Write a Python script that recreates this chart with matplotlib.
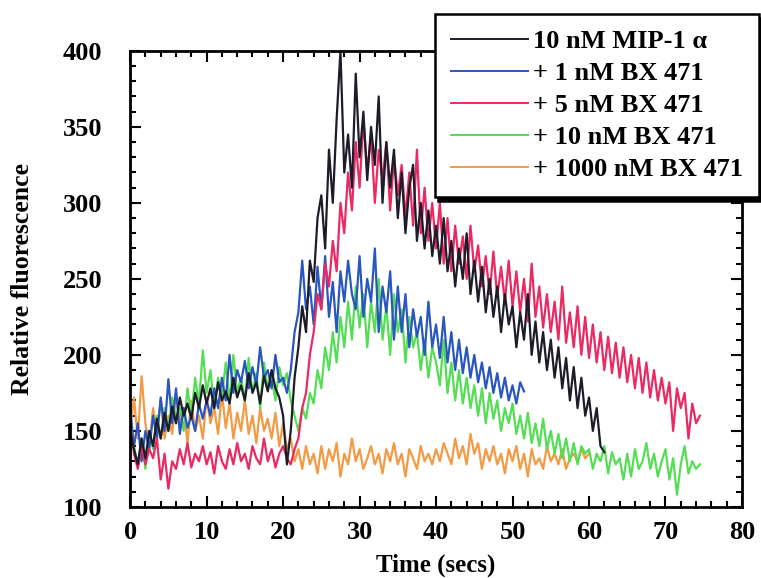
import numpy as np
import matplotlib
matplotlib.use('Agg')
import matplotlib.pyplot as plt
from matplotlib.ticker import MultipleLocator

plt.rcParams['font.family'] = ['Liberation Serif', 'DejaVu Serif']
plt.rcParams['font.weight'] = 'bold'

dt = 0.5  # sampling step (secs)

# 10 nM MIP-1 alpha
mip = [150, 138, 128, 145, 132, 150, 140, 158, 145, 162,
       150, 166, 155, 172, 160, 168, 158, 175, 165, 180,
       168, 178, 165, 182, 170, 176, 168, 185, 172, 180,
       170, 188, 175, 182, 168, 186, 176, 190, 178, 172,
       160, 128, 150, 185, 205, 232, 215, 262, 248, 290,
       305, 270, 335, 300, 355, 400, 320, 345, 310, 385,
       330, 360, 315, 350, 325, 370, 300, 340, 310, 335,
       290, 320, 280, 310, 325, 275, 300, 270, 295, 265,
       285, 260, 290, 255, 275, 245, 270, 250, 280, 240,
       262, 235, 258, 228, 250, 225, 245, 215, 240, 220,
       232, 205, 228, 210, 240, 200, 222, 195, 215, 190,
       210, 185, 205, 178, 198, 170, 192, 165, 185, 160,
       172, 150, 165, 140, 136]

# + 1 nM BX 471
bx1 = [165, 140, 155, 130, 150, 138, 160, 145, 172, 150,
       184, 155, 178, 148, 165, 152, 160, 150, 168, 158,
       170, 160, 178, 165, 185, 170, 200, 175, 190, 182,
       196, 178, 192, 180, 205, 185, 190, 178, 200, 182,
       185, 175, 190, 215, 228, 262, 230, 245, 220, 258,
       230, 265, 225, 248, 215, 255, 235, 262, 240, 230,
       265, 225, 250, 235, 270, 215, 245, 228, 255, 210,
       245, 215, 240, 205, 230, 212, 225, 200, 235, 205,
       220, 198, 225, 195, 215, 190, 210, 188, 205, 185,
       200, 182, 195, 178, 192, 175, 188, 172, 185, 170,
       180, 168, 182, 176]

# + 5 nM BX 471
bx5 = [155, 135, 125, 140, 128, 138, 132, 145, 118, 135,
       112, 130, 125, 138, 128, 142, 126, 135, 130, 140,
       128, 136, 122, 140, 130, 125, 138, 128, 142, 130,
       135, 125, 140, 132, 128, 145, 130, 138, 126, 135,
       140, 132, 128, 138, 145, 165, 175, 200, 215, 240,
       230, 260, 245, 275, 255, 300, 280, 320, 295, 340,
       310, 355, 320, 345, 300, 335, 315, 340, 295, 330,
       305, 325, 290, 320, 285, 335, 280, 310, 275, 300,
       270, 300, 260, 290, 255, 285, 260, 278, 250, 285,
       255, 272, 245, 265, 240, 268, 238, 258, 235, 262,
       232, 255, 228, 250, 222, 260, 225, 245, 218, 240,
       215, 235, 210, 245, 208, 228, 205, 232, 200, 225,
       198, 220, 195, 215, 190, 212, 188, 208, 185, 205,
       182, 200, 178, 198, 175, 195, 172, 190, 170, 185,
       168, 182, 150, 178, 165, 175, 145, 168, 155, 160]

# + 10 nM BX 471
bx10 = [160, 140, 128, 145, 125, 150, 138, 160, 145, 165,
        150, 172, 158, 165, 150, 178, 160, 185, 168, 203,
        175, 190, 165, 185, 172, 195, 168, 200, 175, 185,
        170, 198, 175, 188, 165, 195, 178, 185, 170, 192,
        180, 188, 170, 160, 150, 165, 158, 175, 168, 190,
        178, 205, 190, 215, 195, 225, 205, 235, 210, 245,
        218, 240, 205, 235, 215, 250, 210, 232, 200, 240,
        215, 230, 195, 225, 205, 215, 190, 210, 185, 205,
        195, 180, 210, 175, 195, 170, 190, 168, 185, 165,
        180, 160, 178, 155, 175, 158, 170, 150, 165, 155,
        168, 148, 160, 145, 162, 142, 155, 140, 158, 138,
        150, 135, 148, 132, 145, 130, 142, 128, 140, 135,
        138, 125, 135, 130, 140, 122, 136, 128, 132, 118,
        135, 120, 138, 125, 130, 142, 125, 135, 120, 130,
        138, 118, 132, 108, 128, 140, 122, 130, 125, 128]

# + 1000 nM BX 471
bx1000 = [150, 172, 145, 186, 155, 140, 165, 150, 170, 145,
          160, 148, 175, 155, 165, 142, 170, 150, 160, 145,
          172, 155, 165, 148, 175, 152, 168, 145, 162, 150,
          170, 148, 160, 142, 165, 150, 158, 145, 162, 140,
          155, 138, 145, 130, 138, 125, 140, 128, 135, 122,
          140, 125, 138, 130, 142, 120, 135, 128, 145, 130,
          138, 125, 132, 140, 128, 135, 122, 138, 130, 142,
          128, 135, 120, 138, 132, 125, 140, 130, 135, 128,
          138, 130, 142, 135, 128, 145, 132, 140, 128, 148,
          135, 142, 125, 138, 130, 140, 128, 135, 122, 138,
          130, 140, 125, 135, 120, 138, 128, 132, 125, 140,
          130, 135, 128, 138, 125, 132, 135, 130, 138, 132, 135]

labels = ['10 nM MIP-1 α', '+ 1 nM BX 471', '+ 5 nM BX 471',
          '+ 10 nM BX 471', '+ 1000 nM BX 471']
colors = ['#1c1c2a', '#2a56c0', '#ea2a62', '#55dd55', '#f29a45']
series = [mip, bx1, bx5, bx10, bx1000]

fig = plt.figure(figsize=(7.61, 5.78), dpi=100)
ax = fig.add_axes([0.171, 0.123, 0.804, 0.789])

draw_order = [4, 3, 1, 2, 0]
lines = {}
for i in draw_order:
    y = np.array(series[i])
    t = np.arange(len(y)) * dt
    lines[i], = ax.plot(t, y, color=colors[i], lw=1.6)

ax.set_xlim(0, 80)
ax.set_ylim(100, 400)
ax.xaxis.set_major_locator(MultipleLocator(10))
ax.xaxis.set_minor_locator(MultipleLocator(2))
ax.yaxis.set_major_locator(MultipleLocator(50))
ax.yaxis.set_minor_locator(MultipleLocator(10))
ax.tick_params(which='both', direction='in', top=True, right=True, width=1.5)
ax.tick_params(which='major', length=8, labelsize=19)
ax.tick_params(axis='y', which='major', pad=20)
ax.tick_params(axis='x', which='major', pad=10)
ax.tick_params(which='minor', length=4)
for s in ax.spines.values():
    s.set_linewidth(2)

ax.set_xlabel('Time (secs)', fontsize=18, fontweight='bold', labelpad=7)
ax.set_ylabel('Relative fluorescence', fontsize=18.5, fontweight='bold', labelpad=21)

leg = fig.legend([lines[i] for i in range(5)], labels,
                 loc='upper left', bbox_to_anchor=(0.572, 0.976),
                 prop={'size': 19, 'weight': 'bold'},
                 handlelength=2.9, handletextpad=0.2, labelspacing=0.32,
                 borderpad=0.6, borderaxespad=0,
                 fancybox=False, framealpha=1, edgecolor='black',
                 shadow={'color': 'black', 'alpha': 1.0, 'ox': 2, 'oy': -3})
leg.get_frame().set_linewidth(1.8)
for ln in leg.get_lines():
    ln.set_linewidth(1.4)

fig.savefig('out.png', dpi=100)
